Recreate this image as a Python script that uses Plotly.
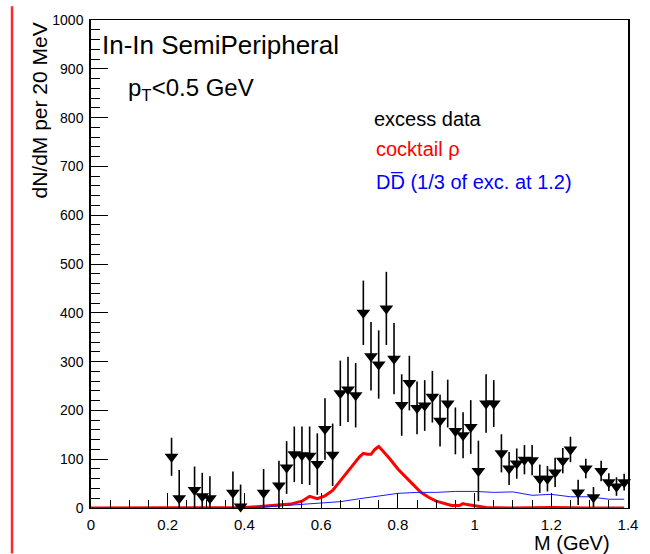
import plotly.graph_objects as go

# ---- data ----
mass = [0.21, 0.23, 0.27, 0.29, 0.31, 0.37, 0.39, 0.45, 0.49, 0.51, 0.53, 0.55, 0.57, 0.59,
        0.61, 0.63, 0.65, 0.67, 0.69, 0.71, 0.73, 0.75, 0.77, 0.79, 0.81, 0.83, 0.85, 0.87,
        0.89, 0.91, 0.93, 0.95, 0.97, 0.99, 1.01, 1.03, 1.05, 1.07, 1.09, 1.11, 1.13, 1.15,
        1.17, 1.19, 1.21, 1.23, 1.25, 1.27, 1.29, 1.31, 1.33, 1.35, 1.37, 1.39]
excess = [105, 20, 37, 24, 20, 31, 3, 31, 46, 83, 110, 108, 107, 90,
          162, 109, 235, 243, 231, 400, 311, 294, 409, 306, 211, 256, 205, 210,
          228, 179, 214, 158, 149, 166, 76, 214, 214, 112, 81, 91, 99, 98,
          60, 60, 73, 97, 120, 32, 81, 22, 76, 53, 44, 53]
excess_err = [39, 58, 48, 48, 45, 44, 45, 49, 51, 54, 57, 59, 60, 63,
              63, 64, 67, 67, 66, 66, 70, 70, 75, 73, 63, 56, 54, 52,
              53, 53, 49, 48, 47, 55, 62, 60, 48, 39, 34, 31, 30, 31,
              29, 26, 30, 26, 26, 26, 20, 21, 21, 18, 19, 17]

rho_m = [0.0, 0.35, 0.40, 0.44, 0.48, 0.52, 0.55, 0.57, 0.59, 0.61, 0.63, 0.65, 0.67, 0.69,
         0.70, 0.71, 0.72, 0.73, 0.74, 0.75, 0.76, 0.77, 0.78, 0.80, 0.82, 0.84, 0.86, 0.88,
         0.90, 0.92, 0.94, 0.96, 0.97, 0.98, 1.00, 1.03, 1.10, 1.20, 1.30, 1.39]
rho_v = [0, 0, 1, 3, 5, 8, 14, 24, 19, 25, 36, 55, 75, 95,
         105, 112, 110, 110, 120, 126, 118, 110, 100, 80, 63, 48, 32, 22,
         14, 9, 5, 5, 9, 7, 4, 1, 0, 1, 0, 0]

dd_m = [0.0, 0.40, 0.45, 0.50, 0.55, 0.60, 0.65, 0.70, 0.75, 0.80, 0.85, 0.90, 0.95,
        1.00, 1.05, 1.10, 1.15, 1.20, 1.25, 1.30, 1.35, 1.39]
dd_v = [0, 0, 2, 5, 8, 10, 13, 19, 24, 30, 32, 32, 34,
        34, 32, 33, 26, 28, 23, 23, 18, 18]

x_ticks = [0, 0.2, 0.4, 0.6, 0.8, 1.0, 1.2, 1.4]
y_ticks = [0, 100, 200, 300, 400, 500, 600, 700, 800, 900, 1000]

# ---- layout geometry ----
W, H = 650, 554
ML, MR, MT, MB = 91, 15, 14, 46
PW, PH = W - ML - MR, H - MT - MB


def px(xp):
    return (xp - ML) / PW


def py(yp):
    return (H - MB - yp) / PH


FONT = "Liberation Sans, Arial, Helvetica, sans-serif"

fig = go.Figure()

fig.add_trace(go.Scatter(
    x=rho_m, y=rho_v, mode="lines",
    line=dict(color="#ff0000", width=3), showlegend=False, hoverinfo="skip"))

fig.add_trace(go.Scatter(
    x=dd_m, y=dd_v, mode="lines",
    line=dict(color="#1a1aff", width=1), showlegend=False, hoverinfo="skip"))

err_minus = [min(e, v) for e, v in zip(excess_err, excess)]
fig.add_trace(go.Scatter(
    x=mass, y=excess, mode="markers",
    marker=dict(symbol="triangle-down", size=12, color="black"),
    error_y=dict(type="data", array=excess_err, arrayminus=err_minus,
                 color="black", thickness=1.6, width=0),
    cliponaxis=False, showlegend=False))

fig.update_layout(
    width=W, height=H,
    margin=dict(l=ML, r=MR, t=MT, b=MB, pad=0),
    paper_bgcolor="white", plot_bgcolor="white",
    font=dict(family=FONT, color="black"),
    showlegend=False,
    xaxis=dict(
        range=[0, 1.4], tickvals=x_ticks, ticktext=[f"{v:g}" for v in x_ticks],
        ticks="inside", ticklen=15, tickwidth=1, tickcolor="black",
        minor=dict(dtick=0.05, tick0=0, ticks="inside", ticklen=8, tickcolor="black", tickwidth=1),
        showgrid=False, zeroline=False, showline=True, linecolor="black", linewidth=1,
        mirror=True, tickfont=dict(size=15, family=FONT), ticklabelstandoff=3,
    ),
    yaxis=dict(
        range=[0, 1000], tickvals=y_ticks, ticktext=[str(v) for v in y_ticks],
        ticks="inside", ticklen=17, tickwidth=1, tickcolor="black",
        minor=dict(dtick=20, tick0=0, ticks="inside", ticklen=9, tickcolor="black", tickwidth=1),
        showgrid=False, zeroline=False, showline=True, linecolor="black", linewidth=1.5,
        mirror=True, tickfont=dict(size=14, family=FONT), ticklabelstandoff=3,
    ),
)

annots = [
    dict(text="In-In SemiPeripheral", x=px(100), y=py(39), xanchor="left", yanchor="middle",
         font=dict(size=26, color="black")),
    dict(text="p<sub>T</sub>&lt;0.5 GeV", x=px(126), y=py(84), xanchor="left", yanchor="middle",
         font=dict(size=24, color="black")),
    dict(text="excess data", x=px(376), y=py(114), xanchor="left", yanchor="middle",
         font=dict(size=20, color="black")),
    dict(text="cocktail ρ", x=px(378), y=py(145), xanchor="left", yanchor="middle",
         font=dict(size=20, color="#ff0000")),
    dict(text="DD\u0305 (1/3 of exc. at 1.2)", x=px(378), y=py(178), xanchor="left", yanchor="middle",
         font=dict(size=20, color="#0000ff")),
    dict(text="M (GeV)", x=px(619), y=py(543), xanchor="right", yanchor="middle",
         font=dict(size=20, color="black")),
    dict(text="dN/dM per 20 MeV", x=px(39), y=py(106), xanchor="center", yanchor="middle",
         textangle=-90, font=dict(size=21, color="black")),
]
for a in annots:
    a.update(xref="paper", yref="paper", showarrow=False)
fig.update_layout(annotations=annots)

fig.add_shape(type="line", xref="paper", yref="paper",
              x0=px(11), x1=px(11), y0=py(H), y1=py(0),
              line=dict(color="#ff2a2a", width=2.5))

fig.write_html("out.html")
